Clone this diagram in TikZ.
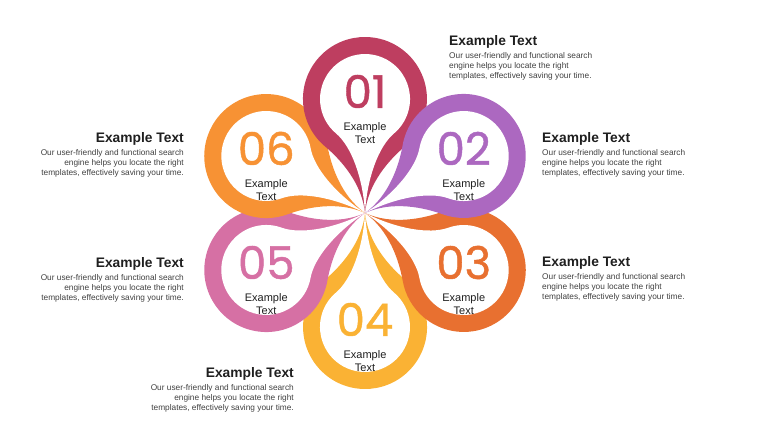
\documentclass[tikz,border=0pt]{standalone}
\usepackage{fontspec}
\setmainfont{Liberation Sans}
\newfontfamily\numfont[FakeBold=1]{Poppins}
\usetikzlibrary{positioning}
\definecolor{petalA}{RGB}{190,62,96}
\definecolor{petalB}{RGB}{172,104,192}
\definecolor{petalC}{RGB}{232,112,48}
\definecolor{petalD}{RGB}{250,178,52}
\definecolor{petalE}{RGB}{214,112,164}
\definecolor{petalF}{RGB}{247,146,52}
\colorlet{darktext}{black!88}
\tikzstyle{flower} = [
  x=1pt,
  y=1pt,
]
\tikzstyle{petalnum} = [inner sep=0pt, anchor=base, text depth=0pt,
  font=\numfont\fontsize{45}{45}\selectfont]
\tikzstyle{petallabel} = [inner sep=0pt, align=center, text=darktext,
  font=\fontsize{11}{13}\selectfont]
\tikzstyle{desctitle} = [inner sep=0pt, text=darktext,
  font=\fontsize{13.8}{16}\selectfont\bfseries]
\tikzstyle{desctext} = [inner sep=0pt, text=black!75,
  font=\fontsize{8.3}{10}\selectfont]

\begin{document}
\begin{tikzpicture}[flower]
      \def\dist{114}
      \def\outr{62}
      \def\innr{45}

      \useasboundingbox (0,0) rectangle (760,428);
      \coordinate (O) at (365,215);

      % Petals
      \foreach \ang/\col in {-90/petalD, -150/petalE, 150/petalF, 90/petalA, -30/petalC, 30/petalB} {
        \begin{scope}[shift={(O)}, rotate=\ang]
          \fill[\col] (0,0) .. controls (30,3) and (53.6,24.6) .. (66.5,39.9)
            arc[start angle=140, end angle=-140, radius=\outr]
            .. controls (53.6,-24.6) and (30,-3) .. (0,0) -- cycle;
          \fill[white] (0,0) .. controls (35,2) and (66.6,13.6) .. (79.5,28.9)
            arc[start angle=140, end angle=-140, radius=\innr]
            .. controls (66.6,-13.6) and (35,-2) .. (0,0) -- cycle;
        \end{scope}
      }

      % Numbers
      \foreach \ang/\col/\num in {90/petalA/01, 30/petalB/02, -30/petalC/03, -90/petalD/04, -150/petalE/05, 150/petalF/06} {
        \path (O) ++(\ang:\dist) coordinate (h\num);
        \node[petalnum, text=\col] (n\num) at ([yshift=-9pt]h\num) {\num};
        \node[petallabel] (e\num) at ([yshift=-34pt]h\num) {Example\\Text};
      }

      % Descriptions
      \foreach \num/\x/\y in {01/449/382, 02/542/285, 03/542/161} {
        \node[desctitle, anchor=base west] (t\num) at (\x,\y) {Example Text};
        \node[desctext, align=left, below right=6pt and 0pt of t\num.base west] (b\num)
          {Our user-friendly and functional search\\engine helps you locate the right\\templates, effectively saving your time.};
      }
      \foreach \num/\x/\y in {06/184/285, 05/184/160, 04/294/50} {
        \node[desctitle, anchor=base east] (t\num) at (\x,\y) {Example Text};
        \node[desctext, align=right, below left=6pt and 0pt of t\num.base east] (b\num)
          {Our user-friendly and functional search\\engine helps you locate the right\\templates, effectively saving your time.};
      }
\end{tikzpicture}
\end{document}
